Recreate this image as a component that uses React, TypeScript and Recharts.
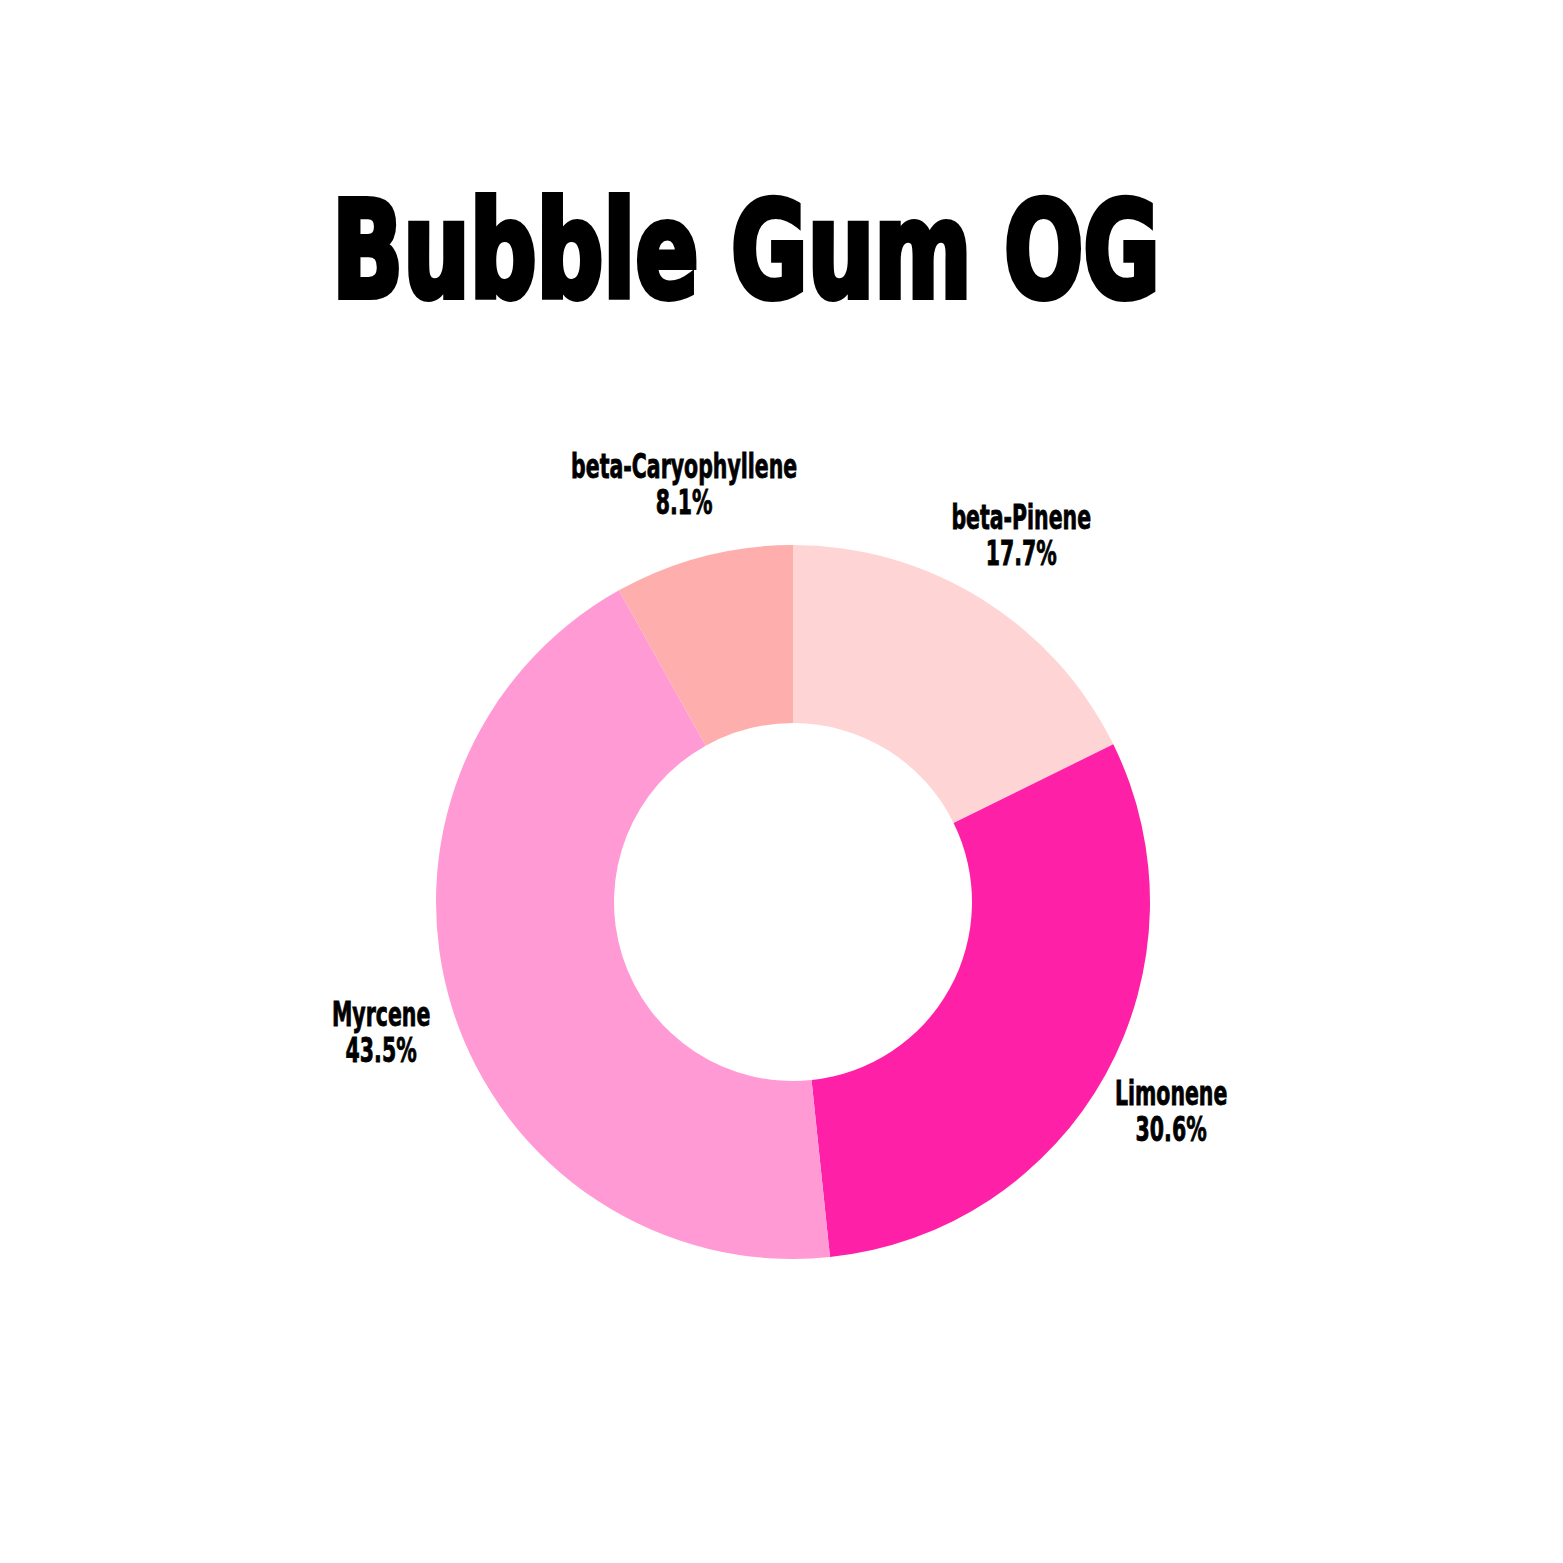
import * as React from 'react';
import { PieChart, Pie, Cell } from 'recharts';

const terpenes = ['beta-Pinene', 'Limonene', 'Myrcene', 'beta-Caryophyllene'];
const shares = [17.7, 30.6, 43.5, 8.1];
const colors = ['#FFD4D4', '#FF20A8', '#FF9AD5', '#FFAEAE'];

const data = terpenes.map((name, i) => ({ name, value: shares[i] }));

const FONT = '"DejaVu Sans Condensed", "DejaVu Sans", sans-serif';
const RAD = Math.PI / 180;

function renderLabel(props: any) {
  const { cx, cy, midAngle, name, value } = props;
  const r = 432;
  const x = cx + r * Math.cos(-midAngle * RAD);
  const y = cy + r * Math.sin(-midAngle * RAD);
  const common = {
    textAnchor: 'middle' as const,
    fontFamily: FONT,
    fontWeight: 700,
    fontSize: 33,
    fill: '#000',
    stroke: '#000',
    strokeWidth: 0.8,
  };
  return (
    <g transform={`translate(${x} ${y}) scale(0.69 1)`}>
      <text x={0} y={-6} {...common}>{name}</text>
      <text x={0} y={30} {...common}>{`${value.toFixed(1)}%`}</text>
    </g>
  );
}

export default function App() {
  return (
    <div style={{ position: 'absolute', left: 0, top: 0, width: 1563, height: 1563, background: '#fff' }}>
      <svg width={1563} height={400} style={{ position: 'absolute', left: 0, top: 0 }}>
        <text
          x={332}
          y={297}
          textLength={828}
          lengthAdjust="spacingAndGlyphs"
          fontFamily={FONT}
          fontWeight={700}
          fontSize={134}
          fill="#000"
          stroke="#000"
          strokeWidth={6}
        >
          Bubble Gum OG
        </text>
      </svg>
      <PieChart width={1563} height={1563} margin={{ top: 0, right: 0, bottom: 0, left: 0 }} style={{ position: 'absolute', left: 0, top: 0 }}>
        <Pie
          data={data}
          dataKey="value"
          nameKey="name"
          cx={793}
          cy={902}
          innerRadius={179}
          outerRadius={357}
          startAngle={90}
          endAngle={-270}
          stroke="none"
          label={renderLabel}
          labelLine={false}
          isAnimationActive={false}
        >
          {data.map((d, i) => (
            <Cell key={d.name} fill={colors[i]} />
          ))}
        </Pie>
      </PieChart>
    </div>
  );
}
